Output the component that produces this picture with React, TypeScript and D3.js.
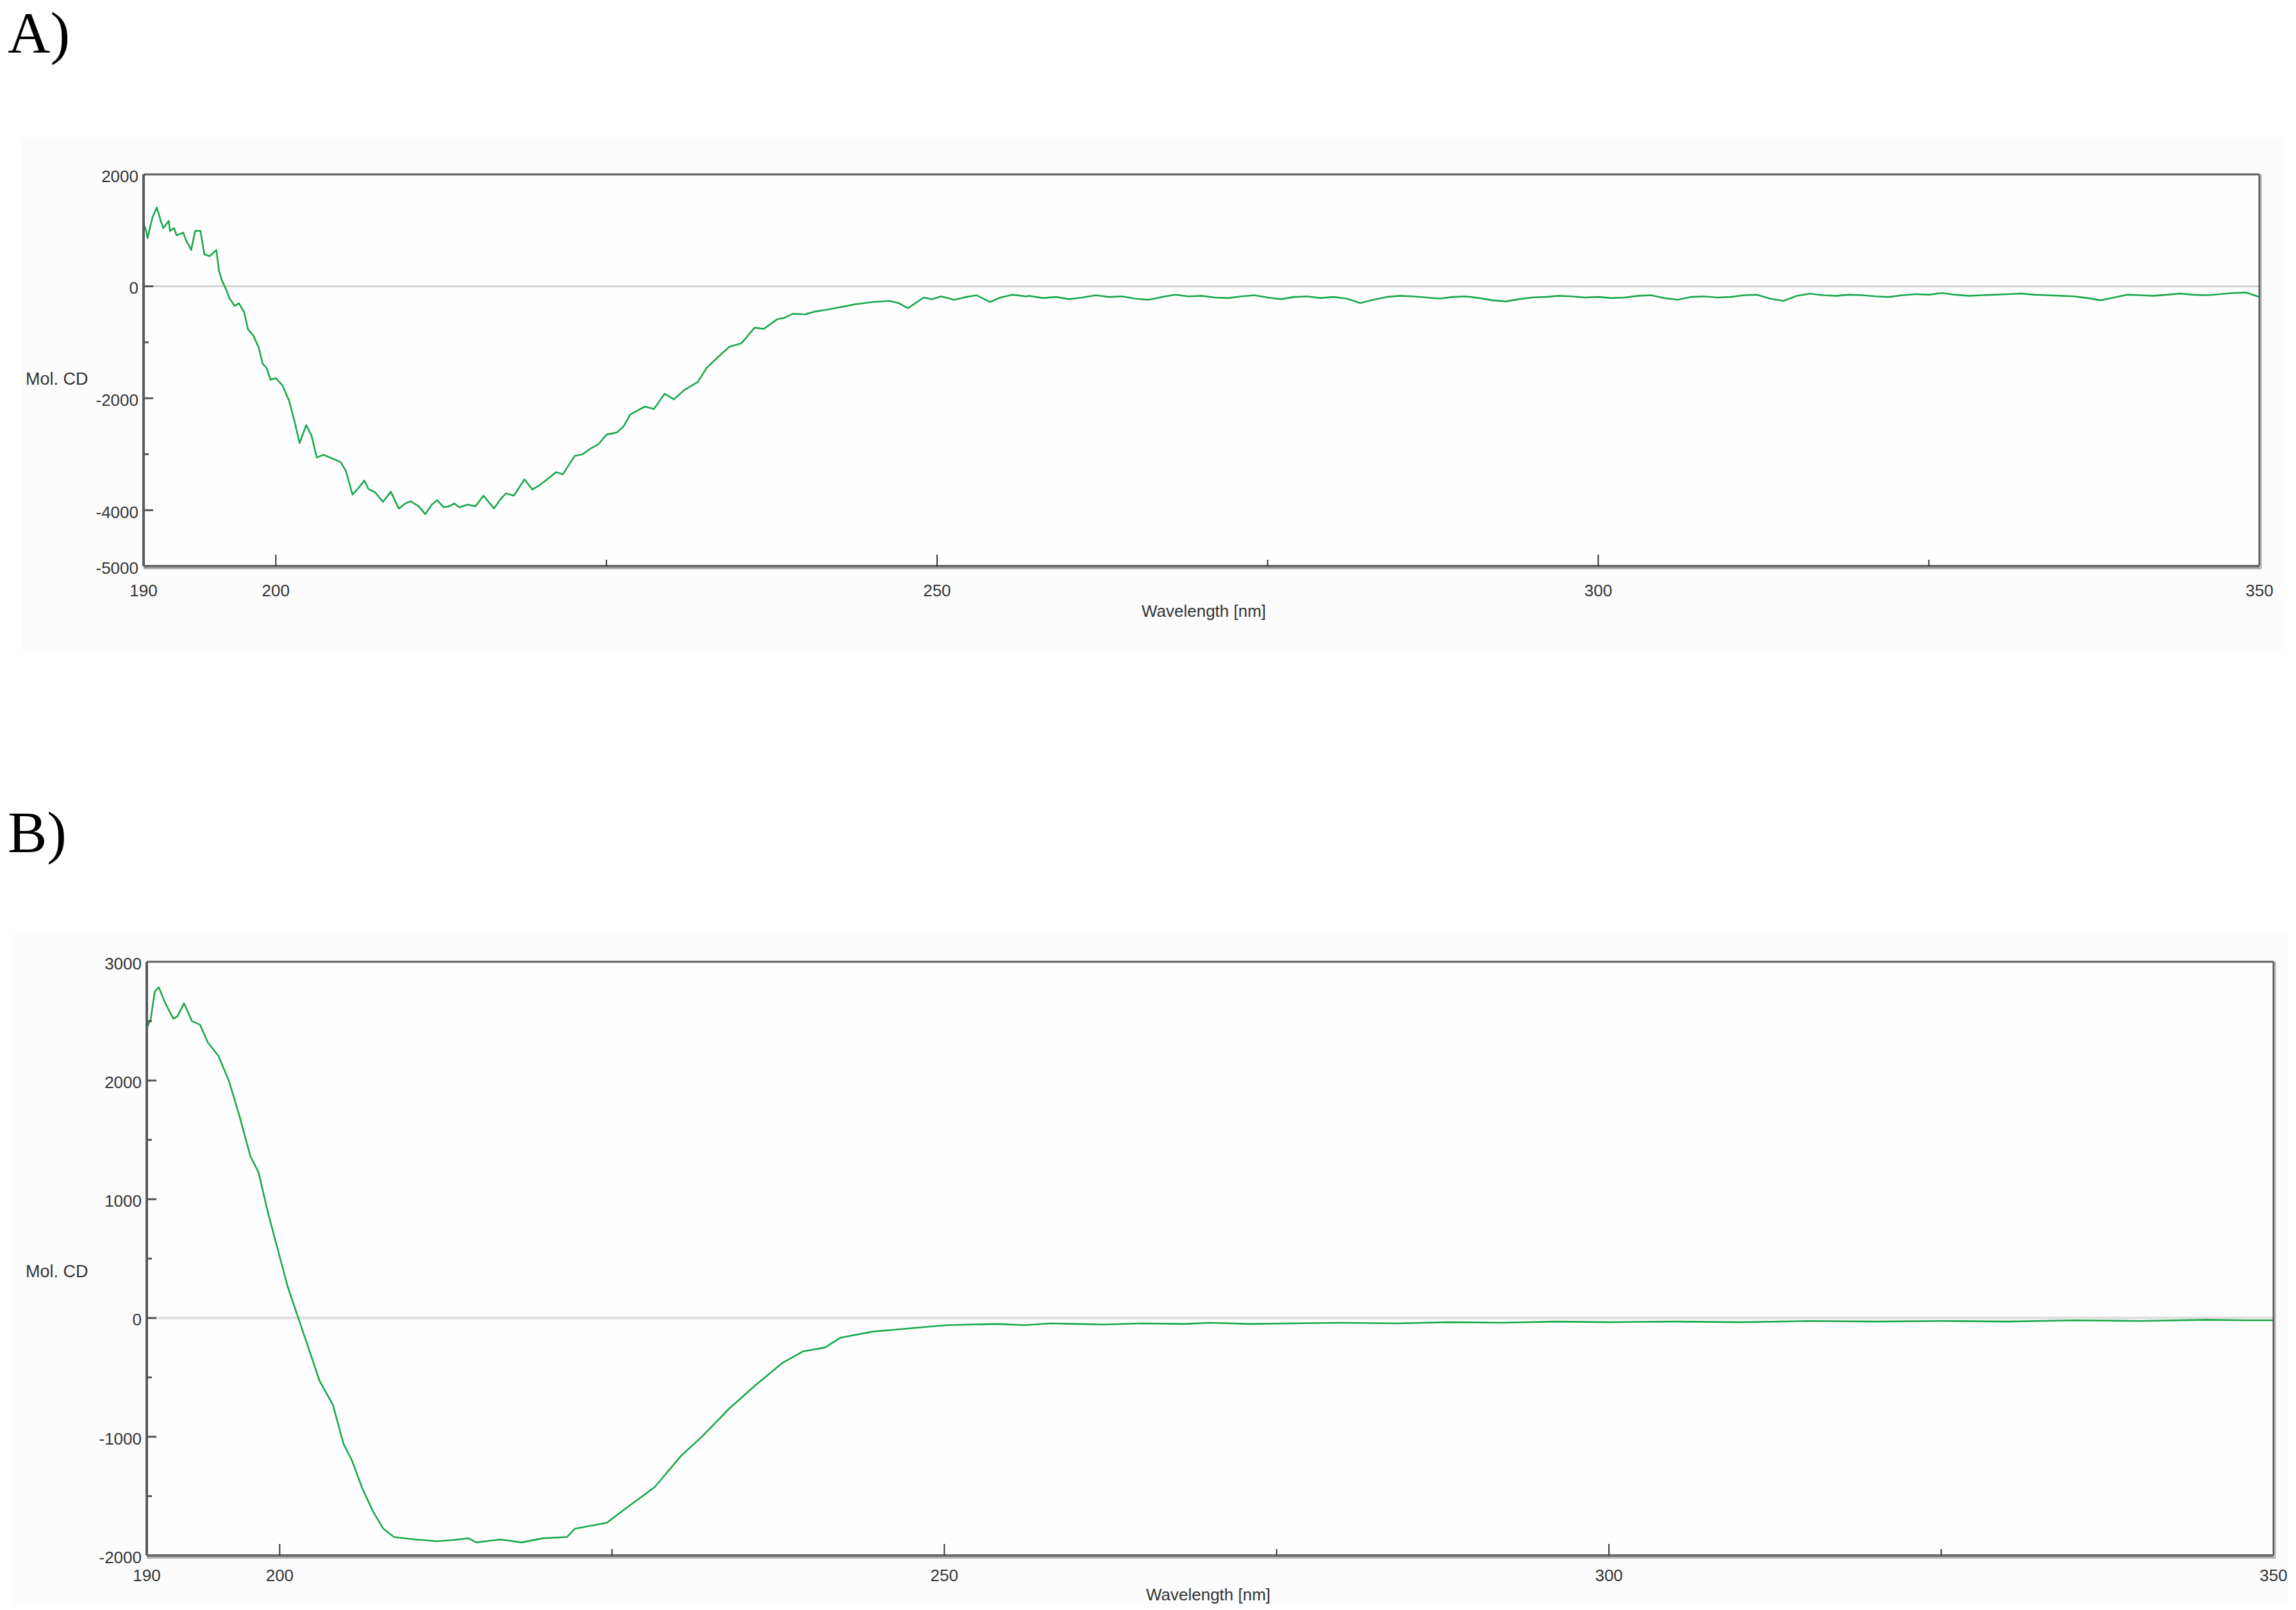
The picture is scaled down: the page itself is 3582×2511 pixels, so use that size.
import React from "react";
import * as d3 from "d3";

// ---------- Panel A data ----------
const waveA = [
  190.0, 190.2, 190.3, 190.5, 190.7, 191.0, 191.3, 191.5, 191.9, 192.0, 192.3, 192.5, 193.0, 193.2, 193.6, 193.9,
  194.3, 194.6, 195.0, 195.5, 195.7, 195.9, 196.3, 196.5, 196.9, 197.2, 197.6, 197.9, 198.3, 198.7, 199.0, 199.3,
  199.6, 200.0, 200.5, 201.0, 201.4, 201.8, 202.3, 202.7, 203.1, 203.6, 204.4, 204.9, 205.3, 205.8, 206.3, 206.7,
  207.0, 207.5, 208.1, 208.7, 209.3, 209.8, 210.2, 210.8, 211.3, 211.8, 212.2, 212.7, 213.1, 213.5, 213.9, 214.5,
  215.1, 215.7, 216.5, 217.0, 217.4, 218.0, 218.8, 219.4, 219.9, 220.4, 221.2, 221.7, 222.6, 223.2, 223.8, 224.4,
  225.0, 225.8, 226.3, 226.8, 227.9, 228.6, 229.4, 230.1, 230.9, 231.9, 232.6, 233.5, 234.3, 235.2, 236.2, 236.9,
  237.9, 238.5, 239.1, 240.0, 240.8, 241.6, 242.5, 243.2, 243.8, 244.5, 245.2, 246.4, 247.1, 247.8, 249.0, 249.6,
  250.3, 251.3, 252.2, 253.0, 254.0, 254.8, 255.7, 256.7,
  257, 258, 259, 260, 261, 262, 263, 264, 265, 266, 267, 268, 269, 270, 271, 272, 273, 274, 275, 276, 277, 278, 279,
  280, 281, 282, 283, 284, 285, 286, 287, 288, 289, 290, 291, 292, 293, 294, 295, 296, 297, 298, 299, 300, 301, 302,
  303, 304, 305, 306, 307, 308, 309, 310, 311, 312, 313, 314, 315, 316, 317, 318, 319, 320, 321, 322, 323, 324, 325,
  326, 327, 328, 329, 330, 331, 332, 333, 334, 335, 336, 337, 338, 339, 340, 341, 342, 343, 344, 345, 346, 347, 348,
  349, 350,
];
const cdA = [
  1120, 990, 860, 1070, 1250, 1410, 1170, 1040, 1170, 990, 1040, 910, 960, 830, 650, 990,
  990, 570, 540, 650, 280, 120, -90, -220, -350, -300, -460, -770, -880, -1090, -1380, -1460,
  -1670, -1640, -1770, -2040, -2400, -2800, -2480, -2670, -3060, -3010, -3090, -3140, -3300, -3720, -3590, -3470,
  -3620, -3680, -3850, -3670, -3970, -3880, -3840, -3930, -4070, -3900, -3820, -3950, -3930, -3880, -3950, -3900,
  -3930, -3740, -3970, -3800, -3700, -3740, -3450, -3630, -3560, -3470, -3320, -3360, -3030, -3000, -2900, -2820,
  -2650, -2610, -2500, -2290, -2150, -2190, -1920, -2020, -1850, -1710, -1450, -1250, -1080, -1020, -740, -760,
  -590, -560, -490, -500, -450, -420, -380, -350, -320, -300, -280, -260, -300, -390, -200, -230,
  -180, -240, -190, -160, -280, -200, -150, -180,
  -170, -210, -190, -230, -200, -160, -190, -180, -220, -240, -190, -150, -180, -170, -200, -210, -180, -160, -200,
  -230, -190, -180, -210, -190, -220, -300, -240, -190, -170, -180, -200, -220, -190, -180, -210, -250, -270, -230,
  -200, -190, -170, -180, -200, -190, -210, -200, -170, -160, -210, -240, -190, -180, -200, -190, -160, -150, -220,
  -260, -170, -130, -160, -170, -150, -160, -180, -190, -160, -140, -150, -120, -150, -170, -160, -150, -140, -130,
  -150, -160, -170, -180, -210, -250, -200, -150, -160, -170, -150, -130, -150, -160, -140, -120, -110, -190,
];

// ---------- Panel B data ----------
const waveB = [
  190.0, 190.3, 190.6, 190.9, 191.4, 192.0, 192.3, 192.8, 193.4, 194.0, 194.6, 195.4, 196.2, 197.0, 197.8, 198.4,
  199.1, 199.8, 200.6, 201.4, 202.2, 203.0, 204.0, 204.8, 205.4, 206.2, 207.0, 207.8, 208.6, 210.2, 211.8, 213.0,
  214.2, 214.8, 216.6, 218.2, 219.8, 221.6, 222.2, 224.6, 226.2, 228.2, 230.2, 231.8, 233.8, 235.8, 237.8, 239.4,
  241.0, 242.2, 244.6, 246.6, 248.6, 250.2, 252, 254, 256, 258, 260, 262, 265, 268, 270, 273, 276, 280, 284, 288,
  292, 296, 300, 305, 310, 315, 320, 325, 330, 335, 340, 345, 348, 350,
];
const cdB = [
  2440, 2520, 2750, 2785, 2650, 2520, 2540, 2650, 2500, 2470, 2320, 2205, 1990, 1690, 1360, 1230,
  895, 600, 265, 0, -265, -530, -730, -1060, -1190, -1430, -1625, -1775, -1845, -1865, -1880, -1870,
  -1855, -1890, -1865, -1890, -1855, -1845, -1775, -1725, -1590, -1425, -1160, -995, -765, -565, -380, -280,
  -250, -165, -115, -95, -75, -60, -55, -50, -60, -45, -50, -55, -45, -50, -40, -50, -45, -40, -45, -35,
  -40, -30, -35, -30, -35, -25, -30, -25, -30, -20, -25, -15, -20, -20,
];

// ---------- Axis tick values ----------
const xMajorTicks = [190, 200, 250, 300, 350];
const xMinorTicks = [225, 275, 325];
const yLabelsA = [2000, 0, -2000, -4000, -5000];
const yMajorA = [0, -2000, -4000];
const yMinorA = [-1000, -3000];
const yLabelsB = [3000, 2000, 1000, 0, -1000, -2000];
const yMajorB = [2000, 1000, 0, -1000];
const yMinorB = [2500, 1500, 500, -500, -1500];

const GREEN = "#17a84a";
const SANS = "'Liberation Sans', Arial, sans-serif";
const SERIF = "'Liberation Serif', 'Times New Roman', serif";

type PanelProps = {
  label: string;
  labelY: number;
  bg: [number, number, number, number];
  left: number;
  right: number;
  top: number;
  bottom: number;
  yDomain: [number, number];
  waves: number[];
  values: number[];
  yLabels: number[];
  yMajor: number[];
  yMinor: number[];
  molY: number;
  xLabelY: number;
  titleY: number;
  titleX: number;
  zeroColor: string;
  zeroWidth: number;
};

function Panel(p: PanelProps) {
  const x = d3.scaleLinear().domain([190, 350]).range([p.left, p.right]);
  const y = d3.scaleLinear().domain(p.yDomain).range([p.bottom, p.top]);
  const pts = p.waves.map((w, i) => [w, p.values[i]] as [number, number]);
  const line = d3
    .line<[number, number]>()
    .x((d) => x(d[0]))
    .y((d) => y(d[1]));
  return (
    <g>
      <rect x={p.bg[0]} y={p.bg[1]} width={p.bg[2]} height={p.bg[3]} fill="#fcfcfc" />
      <text x={12} y={p.labelY} fontFamily={SERIF} fontSize={92} fill="#000">
        {p.label}
      </text>
      <rect x={p.left} y={p.top} width={p.right - p.left} height={p.bottom - p.top} fill="#fefefe" />
      {/* zero line */}
      <line x1={p.left} x2={p.right} y1={y(0)} y2={y(0)} stroke={p.zeroColor} strokeWidth={p.zeroWidth} />
      {/* trace */}
      <path d={line(pts) || ""} fill="none" stroke={GREEN} strokeWidth={2.6} strokeLinejoin="round" />
      {/* frame */}
      <line x1={p.left} x2={p.right} y1={p.top} y2={p.top} stroke="#5e5e5e" strokeWidth={3} />
      <line x1={p.right} x2={p.right} y1={p.top} y2={p.bottom} stroke="#5e5e5e" strokeWidth={3} />
      <line x1={p.right + 2.5} x2={p.right + 2.5} y1={p.top} y2={p.bottom + 3} stroke="#b0b0b0" strokeWidth={2} />
      <line x1={p.left} x2={p.left} y1={p.top} y2={p.bottom} stroke="#5a5a5a" strokeWidth={4} />
      <line x1={p.left} x2={p.right} y1={p.bottom} y2={p.bottom} stroke="#6a6a6a" strokeWidth={4} />
      <line x1={p.left} x2={p.right + 3} y1={p.bottom + 3.5} y2={p.bottom + 3.5} stroke="#b4b4b4" strokeWidth={3} />
      {/* y ticks */}
      {p.yMajor.map((v) => (
        <line key={"ym" + v} x1={p.left} x2={p.left + 15} y1={y(v)} y2={y(v)} stroke="#555" strokeWidth={3} />
      ))}
      {p.yMinor.map((v) => (
        <line key={"yn" + v} x1={p.left} x2={p.left + 8} y1={y(v)} y2={y(v)} stroke="#555" strokeWidth={3} />
      ))}
      {p.yLabels.map((v) => (
        <text
          key={"yl" + v}
          x={p.left - 8}
          y={y(v) + 5}
          textAnchor="end"
          dominantBaseline="middle"
          fontFamily={SANS}
          fontSize={26}
          fill="#333"
        >
          {v}
        </text>
      ))}
      {/* x ticks */}
      {xMajorTicks
        .filter((v) => v !== 190 && v !== 350)
        .map((v) => (
          <line key={"xm" + v} x1={x(v)} x2={x(v)} y1={p.bottom} y2={p.bottom - 18} stroke="#333" strokeWidth={2} />
        ))}
      {xMinorTicks.map((v) => (
        <line key={"xn" + v} x1={x(v)} x2={x(v)} y1={p.bottom} y2={p.bottom - 10} stroke="#333" strokeWidth={2} />
      ))}
      {xMajorTicks.map((v) => (
        <text key={"xl" + v} x={x(v)} y={p.xLabelY} textAnchor="middle" fontFamily={SANS} fontSize={26} fill="#333">
          {v}
        </text>
      ))}
      <text x={p.titleX} y={p.titleY} textAnchor="middle" fontFamily={SANS} fontSize={26} fill="#333">
        Wavelength [nm]
      </text>
      <text x={40} y={p.molY} dominantBaseline="middle" fontFamily={SANS} fontSize={27} fill="#333">
        Mol. CD
      </text>
    </g>
  );
}

export default function App() {
  return (
    <svg
      width={3582}
      height={2511}
      viewBox="0 0 3582 2511"
      style={{ position: "absolute", left: 0, top: 0, background: "#fff", display: "block" }}
    >
      <rect x={0} y={0} width={3582} height={2511} fill="#fff" />
      <Panel
        label="A)"
        labelY={82}
        bg={[33, 215, 3530, 800]}
        left={224}
        right={3525}
        top={272}
        bottom={883}
        yDomain={[-5000, 2000]}
        waves={waveA}
        values={cdA}
        yLabels={yLabelsA}
        yMajor={yMajorA}
        yMinor={yMinorA}
        molY={593}
        xLabelY={930}
        titleX={1878}
        titleY={962}
        zeroColor="#d2d2d2"
        zeroWidth={3}
      />
      <Panel
        label="B)"
        labelY={1329}
        bg={[20, 1455, 3550, 1047]}
        left={229}
        right={3547}
        top={1500}
        bottom={2426}
        yDomain={[-2000, 3000]}
        waves={waveB}
        values={cdB}
        yLabels={yLabelsB}
        yMajor={yMajorB}
        yMinor={yMinorB}
        molY={1985}
        xLabelY={2466}
        titleX={1885}
        titleY={2496}
        zeroColor="#dedede"
        zeroWidth={4}
      />
    </svg>
  );
}
